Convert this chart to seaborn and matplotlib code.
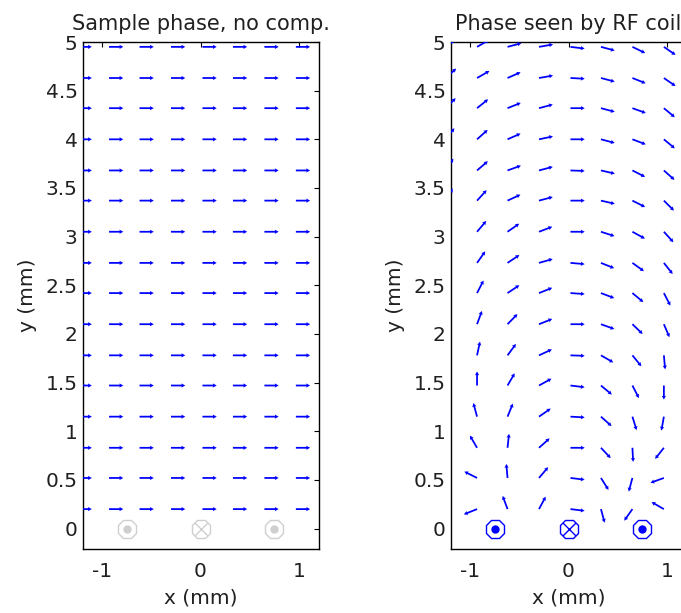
import numpy as np
import matplotlib
matplotlib.use("Agg")
import matplotlib.pyplot as plt
import seaborn as sns

# ---------------- data ----------------
x_cols = [-1.25, -0.93, -0.62, -0.30, 0.02, 0.33, 0.65, 0.97]
y_rows = [4.95, 4.63, 4.32, 4.00, 3.68, 3.37, 3.05, 2.73,
          2.42, 2.10, 1.78, 1.47, 1.15, 0.83, 0.52, 0.20]

# arrow directions (degrees, counter-clockwise from +x), rows top->bottom, cols left->right
left_angle_deg = [
    [0, 0, 0, 0, 0, 0, 0, 0],
    [0, 0, 0, 0, 0, 0, 0, 0],
    [0, 0, 0, 0, 0, 0, 0, 0],
    [0, 0, 0, 0, 0, 0, 0, 0],
    [0, 0, 0, 0, 0, 0, 0, 0],
    [0, 0, 0, 0, 0, 0, 0, 0],
    [0, 0, 0, 0, 0, 0, 0, 0],
    [0, 0, 0, 0, 0, 0, 0, 0],
    [0, 0, 0, 0, 0, 0, 0, 0],
    [0, 0, 0, 0, 0, 0, 0, 0],
    [0, 0, 0, 0, 0, 0, 0, 0],
    [0, 0, 0, 0, 0, 0, 0, 0],
    [0, 0, 0, 0, 0, 0, 0, 0],
    [0, 0, 0, 0, 0, 0, 0, 0],
    [0, 0, 0, 0, 0, 0, 0, 0],
    [0, 0, 0, 0, 0, 0, 0, 0],
]
nan = float("nan")
right_angle_deg = [
    [35, 30, 15, 10, -7, -15, -26, -35],
    [42, 30, 24, 10, -3, -15, -22, -35],
    [45, 39, 22, 15, 0, -15, -20, -40],
    [52, 42, 24, 12, 0, -15, -21, -40],
    [57, 41, 20, 15, -2, -13, -27, -42],
    [60, 48, 25, 15, 0, -13, -27, -45],
    [nan, 50, 35, 21, 0, -18, -29, -48],
    [nan, 55, 34, 16, -5, -22, -36, -52],
    [nan, 63, 34, 22, -4, -21, -40, -63],
    [nan, 70, 46, 22, 0, -20, -44, -67],
    [nan, 78, 54, 25, -2, -30, -51, -85],
    [nan, 90, 60, 29, -7, -40, -63, -90],
    [nan, 105, 68, 35, -3, -42, -73, -100],
    [nan, 120, 84, 42, 0, -47, -87, -128],
    [nan, 153, 95, 50, -7, -58, -105, -160],
    [nan, -158, 110, 62, -7, -75, -125, 150],
]
arrow_len = 0.145

wire_x = [-0.75, 0.0, 0.75]
wire_y = [0.0, 0.0, 0.0]
wire_dir = ["out", "in", "out"]

titles = ["Sample phase, no comp.", "Phase seen by RF coil"]
wire_colors = ["#cfcfcf", "#0000ff"]
xticks = [-1, 0, 1]
xticklabels = ["-1", "0", "1"]
yticks = [0, 0.5, 1, 1.5, 2, 2.5, 3, 3.5, 4, 4.5, 5]
yticklabels = ["0", "0.5", "1", "1.5", "2", "2.5", "3", "3.5", "4", "4.5", "5"]

# ---------------- style ----------------
sns.set_style("white")
plt.rcParams["font.family"] = ["DejaVu Sans"]
plt.rcParams["axes.unicode_minus"] = False
text_color = "#202020"

W, H = 681, 613
fig = plt.figure(figsize=(W / 100, H / 100), dpi=100)
px = lambda v: v / W
py = lambda v: v / H
ax_w, ax_h = 236, 507
bottom = H - 549
axes = [fig.add_axes([px(82.5), py(bottom), px(ax_w), py(ax_h)]),
        fig.add_axes([px(450.5), py(bottom), px(ax_w), py(ax_h)])]

X, Y = np.meshgrid(np.array(x_cols), np.array(y_rows))
for ax, ang, title, wc in zip(axes, [left_angle_deg, right_angle_deg], titles, wire_colors):
    a = np.deg2rad(np.array(ang, dtype=float))
    U = arrow_len * np.cos(a)
    V = arrow_len * np.sin(a)
    ax.quiver(X, Y, U, V, angles="xy", scale_units="xy", scale=1, pivot="tail",
              color="#0000ff", width=0.0075, headwidth=2.4, headlength=2.2,
              headaxislength=2.0, zorder=3)
    # coil wires
    ax.plot(wire_x, wire_y, linestyle="none", marker="8", ms=14, mfc="none",
            mec=wc, mew=1.0, zorder=4)
    xo = [x for x, d in zip(wire_x, wire_dir) if d == "out"]
    yo = [y for y, d in zip(wire_y, wire_dir) if d == "out"]
    xi = [x for x, d in zip(wire_x, wire_dir) if d == "in"]
    yi = [y for y, d in zip(wire_y, wire_dir) if d == "in"]
    sns.scatterplot(x=xo, y=yo, ax=ax, marker="o", s=36, color=wc, linewidth=0, zorder=5)
    sns.scatterplot(x=xi, y=yi, ax=ax, marker="x", s=90, color=wc, linewidth=1.0, zorder=5)

    ax.set_xlim(-1.2, 1.2)
    ax.set_ylim(-0.21, 5)
    ax.set_xticks(xticks)
    ax.set_xticklabels(xticklabels)
    ax.set_yticks(yticks)
    ax.set_yticklabels(yticklabels)
    ax.tick_params(direction="in", length=3.6, width=0.8, top=True, right=True,
                   labelsize=14.5, colors="black", labelcolor=text_color)
    ax.tick_params(axis="x", pad=9.5)
    ax.tick_params(axis="y", pad=3.5)
    for s in ax.spines.values():
        s.set_visible(True)
        s.set_color("black")
        s.set_linewidth(1.0)
    ax.set_title(title, fontsize=15, color=text_color, pad=9)
    ax.set_xlabel("x (mm)", fontsize=14.5, color=text_color, labelpad=5)
    ax.set_ylabel("y (mm)", fontsize=14.5, color=text_color, labelpad=6)

fig.savefig("out.png", dpi=100)
